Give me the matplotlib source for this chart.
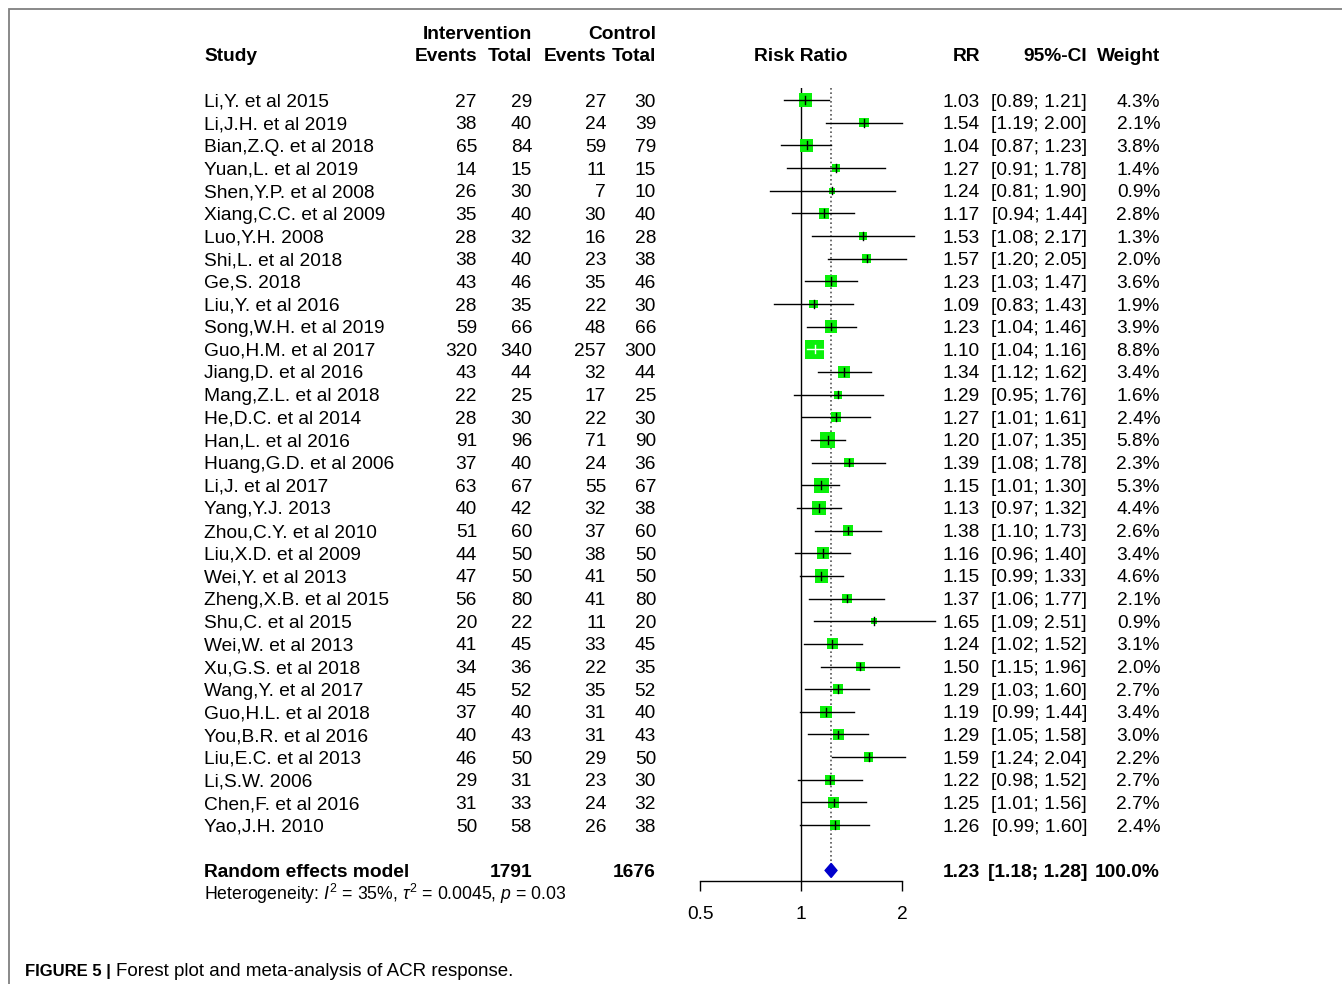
import numpy as np
import matplotlib
matplotlib.use("Agg")
import matplotlib.pyplot as plt

plt.rcParams['font.family'] = ['Liberation Sans', 'DejaVu Sans']
plt.rcParams['mathtext.fontset'] = 'custom'
plt.rcParams['mathtext.rm'] = 'Liberation Sans'
plt.rcParams['mathtext.it'] = 'Liberation Sans:italic'

# data
studies = ["Li,Y. et al 2015", "Li,J.H. et al 2019", "Bian,Z.Q. et al 2018", "Yuan,L. et al 2019",
           "Shen,Y.P. et al 2008", "Xiang,C.C. et al 2009", "Luo,Y.H. 2008", "Shi,L. et al 2018",
           "Ge,S. 2018", "Liu,Y. et al 2016", "Song,W.H. et al 2019", "Guo,H.M. et al 2017",
           "Jiang,D. et al 2016", "Mang,Z.L. et al 2018", "He,D.C. et al 2014", "Han,L. et al 2016",
           "Huang,G.D. et al 2006", "Li,J. et al 2017", "Yang,Y.J. 2013", "Zhou,C.Y. et al 2010",
           "Liu,X.D. et al 2009", "Wei,Y. et al 2013", "Zheng,X.B. et al 2015", "Shu,C. et al 2015",
           "Wei,W. et al 2013", "Xu,G.S. et al 2018", "Wang,Y. et al 2017", "Guo,H.L. et al 2018",
           "You,B.R. et al 2016", "Liu,E.C. et al 2013", "Li,S.W. 2006", "Chen,F. et al 2016",
           "Yao,J.H. 2010"]
ev_int = [27, 38, 65, 14, 26, 35, 28, 38, 43, 28, 59, 320, 43, 22, 28, 91, 37, 63, 40, 51, 44, 47,
          56, 20, 41, 34, 45, 37, 40, 46, 29, 31, 50]
tot_int = [29, 40, 84, 15, 30, 40, 32, 40, 46, 35, 66, 340, 44, 25, 30, 96, 40, 67, 42, 60, 50, 50,
           80, 22, 45, 36, 52, 40, 43, 50, 31, 33, 58]
ev_ctl = [27, 24, 59, 11, 7, 30, 16, 23, 35, 22, 48, 257, 32, 17, 22, 71, 24, 55, 32, 37, 38, 41,
          41, 11, 33, 22, 35, 31, 31, 29, 23, 24, 26]
tot_ctl = [30, 39, 79, 15, 10, 40, 28, 38, 46, 30, 66, 300, 44, 25, 30, 90, 36, 67, 38, 60, 50, 50,
           80, 20, 45, 35, 52, 40, 43, 50, 30, 32, 38]
rr = [1.03, 1.54, 1.04, 1.27, 1.24, 1.17, 1.53, 1.57, 1.23, 1.09, 1.23, 1.10, 1.34, 1.29, 1.27, 1.20,
      1.39, 1.15, 1.13, 1.38, 1.16, 1.15, 1.37, 1.65, 1.24, 1.50, 1.29, 1.19, 1.29, 1.59, 1.22, 1.25,
      1.26]
lo = [0.89, 1.19, 0.87, 0.91, 0.81, 0.94, 1.08, 1.20, 1.03, 0.83, 1.04, 1.04, 1.12, 0.95, 1.01, 1.07,
      1.08, 1.01, 0.97, 1.10, 0.96, 0.99, 1.06, 1.09, 1.02, 1.15, 1.03, 0.99, 1.05, 1.24, 0.98, 1.01,
      0.99]
hi = [1.21, 2.00, 1.23, 1.78, 1.90, 1.44, 2.17, 2.05, 1.47, 1.43, 1.46, 1.16, 1.62, 1.76, 1.61, 1.35,
      1.78, 1.30, 1.32, 1.73, 1.40, 1.33, 1.77, 2.51, 1.52, 1.96, 1.60, 1.44, 1.58, 2.04, 1.52, 1.56,
      1.60]
weight = [4.3, 2.1, 3.8, 1.4, 0.9, 2.8, 1.3, 2.0, 3.6, 1.9, 3.9, 8.8, 3.4, 1.6, 2.4, 5.8, 2.3, 5.3,
          4.4, 2.6, 3.4, 4.6, 2.1, 0.9, 3.1, 2.0, 2.7, 3.4, 3.0, 2.2, 2.7, 2.7, 2.4]
pooled = (1.23, 1.18, 1.28)
pooled_weight = 100.0
ticks = [0.5, 1, 2]

W, H = 1342, 984
dpi = 100
fs = 13.8
step = 22.66   # px per row
y0 = 100       # px of first study row
n = len(studies)
row_re = n + 1
base = 0.29    # baseline offset in rows (text centred on cap height)

fig = plt.figure(figsize=(W / dpi, H / dpi), dpi=dpi)

# text layer: x in pixels, y in rows
tx = fig.add_axes([0, 0, 1, 1])
tx.set_xlim(0, W)
tx.set_ylim((H - y0) / step, -y0 / step)
tx.axis('off')

# frame lines of the page
tx.plot([9, 9, W], [(H - y0) / step, (9 - y0) / step, (9 - y0) / step], color='#808080', lw=1.3,
        solid_joinstyle='miter')

def col(x, y, s, ha='right', bold=False, size=fs):
    return tx.text(x, y + base * size / fs, s, ha=ha, va='baseline', fontsize=size,
                   fontweight='bold' if bold else 'normal')

# headers
col(204, -2, "Study", ha='left', bold=True)
col(532, -3, "Intervention", bold=True)
col(656, -3, "Control", bold=True)
col(477, -2, "Events", bold=True)
col(532, -2, "Total", bold=True)
col(606, -2, "Events", bold=True)
col(656, -2, "Total", bold=True)
col(801, -2, "Risk Ratio", ha='center', bold=True)
col(980, -2, "RR", bold=True)
col(1087, -2, "95%-CI", bold=True)
col(1160, -2, "Weight", bold=True)

for i in range(n):
    col(204, i, studies[i], ha='left')
    col(477, i, str(ev_int[i]))
    col(532, i, str(tot_int[i]))
    col(606, i, str(ev_ctl[i]))
    col(656, i, str(tot_ctl[i]))
    col(980, i, f"{rr[i]:.2f}")
    col(1087, i, f"[{lo[i]:.2f}; {hi[i]:.2f}]")
    col(1160, i, f"{weight[i]:.1f}%")

col(204, row_re, "Random effects model", ha='left', bold=True)
col(532, row_re, str(sum(tot_int)), bold=True)
col(656, row_re, str(sum(tot_ctl)), bold=True)
col(980, row_re, f"{pooled[0]:.2f}", bold=True)
col(1087, row_re, f"[{pooled[1]:.2f}; {pooled[2]:.2f}]", bold=True)
col(1160, row_re, f"{pooled_weight:.1f}%", bold=True)
col(204, row_re + 1.05, r"Heterogeneity: $I^2$ = 35%, $\tau^2$ = 0.0045, $p$ = 0.03", ha='left', size=12.7)

# caption
cap_y = (976 - y0) / step
tx.text(25, cap_y, "FIGURE 5 |", ha='left', va='baseline', fontsize=12, fontweight='bold')
tx.text(116, cap_y, "Forest plot and meta-analysis of ACR response.", ha='left', va='baseline',
        fontsize=13.5)

# forest panel: log x, px 801 -> 1, 101 px per doubling
px_l, px_r, py_t, py_b = 640, 960, 88, 881
ax = fig.add_axes([px_l / W, 1 - py_b / H, (px_r - px_l) / W, (py_b - py_t) / H])
ax.set_xscale('log')
ax.set_xlim(2 ** ((px_l - 801) / 101), 2 ** ((px_r - 801) / 101))
ax.set_ylim((py_b - y0) / step, (py_t - y0) / step)
ax.patch.set_alpha(0)
for s in ['top', 'left', 'right']:
    ax.spines[s].set_visible(False)
ax.spines['bottom'].set_bounds(ticks[0], ticks[-1])
ax.spines['bottom'].set_linewidth(1.0)
ax.set_yticks([])
ax.set_xticks(ticks)
ax.set_xticklabels([str(t) for t in ticks], fontsize=fs)
ax.xaxis.set_minor_locator(matplotlib.ticker.NullLocator())
ax.tick_params(axis='x', direction='out', length=7.2, width=1.0, pad=11)

ylim = ax.get_ylim()
ax.plot([1, 1], [ylim[0], ylim[1]], color='black', lw=1.0)
ax.plot([pooled[0]] * 2, [ylim[1], row_re - 0.32], color='#555555', lw=1.2, ls=(0, (1, 1.6)))

rows = np.arange(n)
side_px = 6.4 * np.sqrt(np.array(weight))
side_pt = side_px * 72 / dpi
ax.scatter(rr, rows, s=side_pt ** 2, marker='s', color='#0af00a', edgecolors='none', zorder=3)

for i in range(n):
    c = np.log2(rr[i]) * 101
    inside = abs(np.log2(lo[i]) * 101 - c) < side_px[i] / 2 and abs(np.log2(hi[i]) * 101 - c) < side_px[i] / 2
    lc = 'white' if inside else 'black'
    ax.plot([lo[i], hi[i]], [i, i], color=lc, lw=1.0, zorder=4, clip_on=False)
    ax.plot([rr[i], rr[i]], [i - 0.17, i + 0.17], color=lc, lw=1.0, zorder=4)

dh = 0.31
ax.fill([pooled[1], pooled[0], pooled[2], pooled[0]], [row_re, row_re - dh, row_re, row_re + dh],
        color='#0000cc', zorder=4)

fig.savefig("out.png", dpi=dpi)
